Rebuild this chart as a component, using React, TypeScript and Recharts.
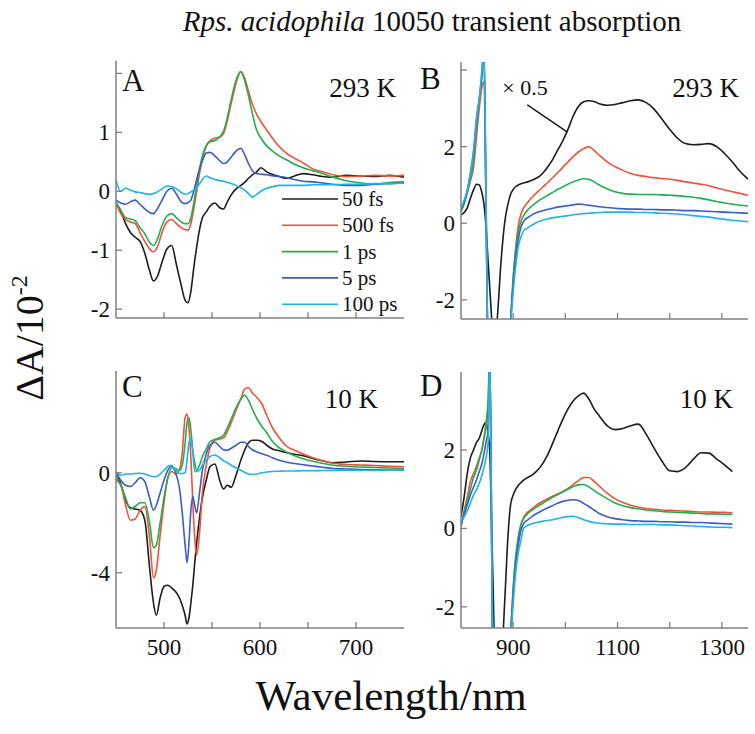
import React from 'react';
import { LineChart, Line, XAxis, YAxis, ReferenceLine } from 'recharts';

// ---- panel A: 293 K, visible region ----
const wlA = [450, 455, 460, 465, 470, 475, 480, 485, 489, 493, 498, 503, 508, 513, 518, 522, 525, 528, 531, 534, 537, 540, 544, 548, 553, 558, 562, 566, 570, 575, 580, 584, 588, 592, 596, 601, 607, 614, 620, 628, 636, 645, 655, 665, 676, 690, 705, 720, 735, 750];
const a50fs = [-0.2, -0.35, -0.55, -0.7, -0.78, -0.85, -1.05, -1.35, -1.52, -1.45, -1.2, -0.98, -0.92, -1.25, -1.6, -1.85, -1.89, -1.7, -1.3, -0.95, -0.65, -0.45, -0.35, -0.25, -0.2, -0.28, -0.3, -0.18, -0.06, 0.04, 0.1, 0.15, 0.22, 0.28, 0.32, 0.4, 0.33, 0.28, 0.25, 0.22, 0.26, 0.3, 0.28, 0.25, 0.24, 0.27, 0.26, 0.25, 0.27, 0.24];
const a500fs = [-0.2, -0.38, -0.48, -0.52, -0.55, -0.7, -0.85, -0.98, -1.03, -0.95, -0.7, -0.52, -0.48, -0.55, -0.62, -0.65, -0.66, -0.55, -0.3, 0.0, 0.3, 0.55, 0.76, 0.86, 0.9, 0.92, 0.98, 1.2, 1.49, 1.83, 2.03, 1.92, 1.7, 1.48, 1.32, 1.18, 1.04, 0.88, 0.76, 0.64, 0.56, 0.48, 0.38, 0.33, 0.28, 0.25, 0.26, 0.27, 0.26, 0.27];
const a1ps = [-0.18, -0.32, -0.45, -0.47, -0.5, -0.62, -0.72, -0.87, -0.92, -0.82, -0.58, -0.42, -0.38, -0.45, -0.52, -0.55, -0.55, -0.45, -0.2, 0.1, 0.38, 0.6, 0.78, 0.84, 0.86, 0.92, 1.02, 1.25, 1.56, 1.88, 2.03, 1.88, 1.62, 1.32, 1.06, 0.9, 0.77, 0.67, 0.6, 0.53, 0.46, 0.4, 0.35, 0.3, 0.24, 0.18, 0.14, 0.12, 0.15, 0.16];
const a5ps = [-0.15, -0.2, -0.22, -0.18, -0.15, -0.22, -0.3, -0.36, -0.38, -0.3, -0.15, 0.0, 0.05, -0.05, -0.18, -0.21, -0.19, -0.15, 0.0, 0.2, 0.38, 0.52, 0.65, 0.66, 0.6, 0.52, 0.47, 0.5, 0.58, 0.68, 0.73, 0.62, 0.47, 0.35, 0.3, 0.29, 0.28, 0.26, 0.25, 0.23, 0.2, 0.17, 0.16, 0.14, 0.12, 0.1, 0.1, 0.12, 0.13, 0.14];
const a100ps = [0.18, 0.0, 0.05, 0.02, -0.01, -0.02, -0.04, -0.05, -0.04, -0.01, 0.04, 0.09, 0.08, 0.04, -0.02, -0.05, -0.04, -0.01, 0.02, 0.06, 0.13, 0.2, 0.26, 0.23, 0.2, 0.18, 0.17, 0.15, 0.13, 0.1, 0.06, 0.02, -0.04, -0.1, -0.06, 0.0, 0.05, 0.08, 0.1, 0.1, 0.1, 0.1, 0.11, 0.11, 0.11, 0.12, 0.12, 0.13, 0.13, 0.14];

// ---- panel B: 293 K, near-IR ----
const wlB = [800, 806, 812, 818, 824, 830, 835, 840, 844, 848, 852, 857, 864, 870, 877, 884, 890, 895, 900, 905, 910, 915, 920, 928, 936, 945, 955, 965, 975, 985, 995, 1005, 1015, 1025, 1035, 1045, 1055, 1065, 1080, 1095, 1110, 1125, 1140, 1155, 1170, 1185, 1200, 1215, 1230, 1245, 1260, 1275, 1290, 1305, 1320, 1335, 1350];
const b50fs = [0.22, 0.28, 0.4, 0.65, 0.87, 1.02, 1.0, 0.8, 0.5, -0.1, -1.0, -2.1, -3.4, -2.4, -0.95, 0.05, 0.5, 0.75, 0.88, 0.96, 1.0, 1.03, 1.05, 1.08, 1.12, 1.18, 1.28, 1.45, 1.65, 1.9, 2.15, 2.45, 2.8, 3.05, 3.17, 3.2, 3.18, 3.12, 3.08, 3.1, 3.15, 3.2, 3.22, 3.15, 2.98, 2.72, 2.45, 2.22, 2.08, 2.05, 2.06, 2.08, 2.0, 1.82, 1.6, 1.35, 1.15];
const b500fs = [0.35, 0.55, 0.8, 1.1, 1.45, 2.3, 3.0, 3.55, 3.7, 0.5, -3.5, -4, -4, -4, -4, -4, -4, -2.6, -1.5, -0.6, -0.05, 0.25, 0.4, 0.55, 0.68, 0.8, 0.92, 1.05, 1.18, 1.32, 1.46, 1.6, 1.74, 1.86, 1.95, 2.0, 1.9, 1.78, 1.6, 1.48, 1.38, 1.3, 1.25, 1.22, 1.19, 1.17, 1.15, 1.12, 1.08, 1.05, 1.02, 0.98, 0.92, 0.87, 0.82, 0.78, 0.73];
const b1ps = [0.3, 0.5, 0.8, 1.15, 1.6, 2.6, 3.2, 3.8, 4.6, 0.5, -3.5, -4, -4, -4, -4, -4, -4, -2.6, -1.4, -0.7, -0.2, 0.05, 0.2, 0.35, 0.45, 0.55, 0.64, 0.72, 0.8, 0.88, 0.95, 1.02, 1.08, 1.13, 1.16, 1.15, 1.08, 1.0, 0.9, 0.82, 0.78, 0.76, 0.75, 0.75, 0.75, 0.74, 0.73, 0.72, 0.7, 0.68, 0.65, 0.61, 0.57, 0.53, 0.5, 0.47, 0.45];
const b5ps = [0.35, 0.55, 0.85, 1.3, 1.85, 2.75, 3.25, 3.9, 4.6, 0.5, -3.5, -4, -4, -4, -4, -4, -4, -2.6, -1.6, -0.9, -0.4, -0.1, 0.05, 0.15, 0.22, 0.28, 0.32, 0.36, 0.39, 0.42, 0.44, 0.46, 0.48, 0.5, 0.49, 0.47, 0.45, 0.43, 0.41, 0.39, 0.38, 0.37, 0.37, 0.36, 0.36, 0.35, 0.35, 0.34, 0.33, 0.33, 0.32, 0.31, 0.3, 0.29, 0.28, 0.27, 0.26];
const b100ps = [0.4, 0.6, 0.87, 1.3, 1.9, 2.8, 3.25, 4.0, 4.6, 0.5, -3.5, -4, -4, -4, -4, -4, -4, -2.7, -1.8, -1.1, -0.6, -0.35, -0.2, -0.12, -0.05, 0.02, 0.07, 0.11, 0.14, 0.16, 0.18, 0.2, 0.22, 0.24, 0.25, 0.26, 0.27, 0.28, 0.29, 0.29, 0.29, 0.29, 0.28, 0.28, 0.27, 0.26, 0.25, 0.24, 0.22, 0.2, 0.18, 0.16, 0.13, 0.1, 0.08, 0.06, 0.04];

// ---- panel C: 10 K, visible region ----
const wlC = [450, 455, 460, 465, 470, 475, 480, 485, 489, 492, 496, 500, 504, 508, 512, 516, 519, 522, 524, 526, 528, 530, 532, 534, 537, 540, 544, 548, 553, 558, 562, 566, 570, 575, 580, 584, 588, 592, 597, 602, 607, 613, 620, 628, 636, 645, 655, 665, 676, 690, 705, 720, 735, 750];
const c50fs = [0.04, -0.45, -1.1, -1.4, -1.45, -1.5, -1.9, -3.8, -5.2, -5.7, -5.0, -4.55, -4.5, -4.6, -4.75, -5.0, -5.3, -5.7, -6.05, -5.8, -5.2, -4.5, -3.6, -2.8, -1.8, -1.0, -0.3, 0.25, 0.35, -0.3, -0.65, -0.5, -0.58, -0.1, 0.5, 0.9, 1.2, 1.3, 1.3, 1.25, 1.1, 0.95, 0.88, 0.8, 0.74, 0.68, 0.57, 0.48, 0.4, 0.43, 0.47, 0.45, 0.44, 0.44];
const c500fs = [-0.29, -0.5, -1.3, -1.9, -1.85, -1.5, -1.35, -2.6, -4.2, -3.9, -2.5, -1.2, -0.2, 0.05, -0.05, 0.1, 0.8, 2.2, 2.35, 1.8, 0.6, -1.2, -2.6, -3.3, -2.4, -0.8, 0.3, 1.0, 1.3, 1.35, 1.4, 1.65, 2.0, 2.5, 2.95, 3.35, 3.4, 3.2, 3.0, 2.75, 2.3, 1.8, 1.4, 1.05, 0.9, 0.75, 0.6, 0.48, 0.38, 0.33, 0.31, 0.29, 0.26, 0.24];
const c1ps = [-0.16, -0.5, -1.0, -1.45, -1.35, -1.2, -1.2, -2.0, -3.0, -2.9, -2.0, -1.0, -0.2, 0.2, 0.17, 0.1, 0.3, 1.2, 2.0, 2.2, 1.7, 0.9, 0.4, 0.1, 0.3, 0.65, 0.95, 1.25, 1.33, 1.4, 1.5, 1.8, 2.15, 2.6, 2.95, 3.1, 2.9, 2.55, 2.15, 1.85, 1.6, 1.25, 1.0, 0.82, 0.68, 0.56, 0.46, 0.38, 0.3, 0.26, 0.23, 0.21, 0.19, 0.17];
const c5ps = [0.0, -0.3, -0.5, -0.55, -0.4, -0.2, -0.35, -1.0, -1.5, -1.3, -0.8, -0.3, 0.1, 0.27, 0.0, -0.6, -1.6, -2.9, -3.6, -2.8, -1.5, -0.95, -1.3, -1.6, -0.8, 0.1, 0.75, 1.1, 1.22, 1.05, 0.92, 0.9, 0.98, 1.1, 1.22, 1.22, 1.05, 0.92, 0.83, 0.76, 0.7, 0.6, 0.5, 0.42, 0.37, 0.32, 0.27, 0.22, 0.17, 0.15, 0.13, 0.12, 0.11, 0.11];
const c100ps = [0.05, -0.1, -0.05, -0.05, -0.03, -0.02, -0.05, -0.12, -0.16, -0.15, -0.05, 0.1, 0.25, 0.3, 0.1, -0.02, -0.03, 0.0, 0.5, 1.2, 1.4, 0.8, 0.05, 0.05, 0.1, 0.3, 0.5, 0.65, 0.71, 0.6, 0.48, 0.4, 0.3, 0.2, 0.1, 0.02, -0.05, -0.07, -0.05, 0.0, 0.03, 0.05, 0.06, 0.07, 0.07, 0.08, 0.08, 0.09, 0.09, 0.1, 0.1, 0.1, 0.11, 0.11];

// ---- panel D: 10 K, near-IR ----
const wlD = [800, 806, 812, 818, 824, 830, 835, 840, 844, 848, 852, 855, 858, 861, 866, 872, 878, 884, 890, 895, 900, 905, 910, 915, 920, 928, 936, 945, 955, 965, 975, 985, 995, 1005, 1015, 1025, 1035, 1045, 1055, 1065, 1080, 1095, 1110, 1125, 1140, 1155, 1170, 1185, 1200, 1215, 1230, 1245, 1260, 1275, 1290, 1305, 1320];
const d50fs = [0.3, 0.8, 1.4, 1.8, 2.0, 2.2, 2.3, 2.5, 2.65, 2.7, 2.4, 2.0, 0.5, -1.2, -3.5, -3.5, -3.2, -1.8, -0.2, 0.6, 0.85, 1.0, 1.1, 1.17, 1.23, 1.3, 1.36, 1.46, 1.62, 1.85, 2.15, 2.47, 2.78, 3.05, 3.25, 3.38, 3.45, 3.3, 3.05, 2.87, 2.62, 2.52, 2.55, 2.62, 2.66, 2.4, 2.05, 1.72, 1.47, 1.45, 1.55, 1.76, 1.93, 1.92, 1.77, 1.62, 1.45];
const d500fs = [0.05, 0.45, 0.8, 1.2, 1.4, 1.6, 1.8, 2.0, 2.3, 2.6, 3.0, 4.5, 1.0, -3.5, -4, -4, -4, -4, -4, -2.7, -1.6, -0.75, -0.25, 0.1, 0.28, 0.42, 0.5, 0.6, 0.68, 0.75, 0.82, 0.88, 0.94, 1.02, 1.12, 1.22, 1.3, 1.3, 1.2, 1.08, 0.9, 0.76, 0.66, 0.59, 0.54, 0.51, 0.49, 0.47, 0.46, 0.45, 0.44, 0.43, 0.42, 0.42, 0.41, 0.41, 0.4];
const d1ps = [0.05, 0.4, 0.7, 1.0, 1.3, 1.5, 1.75, 2.0, 2.3, 2.7, 3.3, 4.5, 1.0, -3.5, -4, -4, -4, -4, -4, -2.7, -1.5, -0.7, -0.2, 0.1, 0.25, 0.38, 0.46, 0.55, 0.63, 0.71, 0.79, 0.86, 0.93, 1.0, 1.07, 1.11, 1.12, 1.06, 0.97, 0.88, 0.76, 0.65, 0.58, 0.53, 0.5, 0.47, 0.45, 0.43, 0.42, 0.41, 0.4, 0.39, 0.38, 0.37, 0.37, 0.36, 0.36];
const d5ps = [0.1, 0.35, 0.6, 0.85, 1.05, 1.25, 1.45, 1.65, 1.9, 2.2, 2.5, 4.5, 1.0, -3.5, -4, -4, -4, -4, -4, -2.8, -1.7, -0.9, -0.4, -0.05, 0.12, 0.22, 0.3, 0.38, 0.45, 0.52, 0.58, 0.64, 0.69, 0.72, 0.73, 0.71, 0.64, 0.56, 0.47, 0.38, 0.3, 0.25, 0.22, 0.2, 0.19, 0.18, 0.18, 0.17, 0.17, 0.16, 0.16, 0.15, 0.15, 0.14, 0.13, 0.12, 0.11];
const d100ps = [0.15, 0.3, 0.45, 0.65, 0.85, 1.0, 1.15, 1.35, 1.55, 1.8, 2.2, 4.5, 1.0, -3.5, -4, -4, -4, -4, -4, -2.9, -1.9, -1.1, -0.6, -0.3, 0.0, 0.08, 0.12, 0.15, 0.18, 0.2, 0.22, 0.25, 0.28, 0.3, 0.31, 0.27, 0.22, 0.18, 0.15, 0.13, 0.12, 0.11, 0.11, 0.1, 0.1, 0.1, 0.1, 0.09, 0.09, 0.08, 0.07, 0.06, 0.05, 0.04, 0.03, 0.03, 0.02];

const seriesNames = ['50 fs', '500 fs', '1 ps', '5 ps', '100 ps'];
const seriesColors = ['#1c1c1c', '#f4503a', '#22ae4c', '#3a5cc8', '#20b2e8'];

const FONT = '"Liberation Serif", "Times New Roman", serif';
const FRAME = '#808080';

const toRows = (wl: number[], ys: number[][]) =>
  wl.map((x, i) => {
    const row: Record<string, number> = { x };
    ys.forEach((s, k) => (row['s' + k] = s[i]));
    return row;
  });

type Side = 'bottom' | 'top' | 'left' | 'right';

const makeTick = (side: Side, labels: number[]) => (props: any) => {
  const { x, y, payload } = props;
  const v = payload.value;
  const show = labels.includes(v);
  const L = 6;
  if (side === 'bottom') {
    return (
      <g>
        <line x1={x} y1={y} x2={x} y2={y - L} stroke={FRAME} strokeWidth={1.3} />
        {show && (
          <text x={x} y={y + 27} textAnchor="middle" fontSize={23} fontFamily={FONT} fill="#111">
            {v}
          </text>
        )}
      </g>
    );
  }
  if (side === 'top') {
    return <line x1={x} y1={y} x2={x} y2={y + L} stroke={FRAME} strokeWidth={1.3} />;
  }
  if (side === 'left') {
    return (
      <g>
        <line x1={x} y1={y} x2={x + L} y2={y} stroke={FRAME} strokeWidth={1.3} />
        {show && (
          <text x={x - 6} y={y + 8} textAnchor="end" fontSize={23} fontFamily={FONT} fill="#111">
            {v}
          </text>
        )}
      </g>
    );
  }
  return <line x1={x} y1={y} x2={x - L} y2={y} stroke={FRAME} strokeWidth={1.3} />;
};

interface PanelProps {
  rows: Record<string, number>[];
  left: number;
  top: number;
  w: number;
  h: number;
  xDomain: [number, number];
  yDomain: [number, number];
  xTicks: number[];
  xLabels: number[];
  yTicks: number[];
  yLabels: number[];
  children?: React.ReactNode;
}

const AX_L = 50;
const AX_B = 35;
const M = 5;

const Panel = ({ rows, left, top, w, h, xDomain, yDomain, xTicks, xLabels, yTicks, yLabels, children }: PanelProps) => (
  <div style={{ position: 'absolute', left: left - AX_L, top: top - M }}>
    <LineChart
      width={AX_L + w + M}
      height={M + h + AX_B}
      data={rows}
      margin={{ top: M, right: M, left: 0, bottom: 0 }}
    >
      <XAxis
        dataKey="x"
        type="number"
        domain={xDomain}
        allowDataOverflow
        ticks={xTicks}
        interval={0}
        height={AX_B}
        tickSize={0}
        tickMargin={0}
        tickLine={false}
        axisLine={{ stroke: FRAME, strokeWidth: 1.5 }}
        tick={makeTick('bottom', xLabels)}
      />
      <XAxis
        xAxisId="t"
        orientation="top"
        dataKey="x"
        type="number"
        domain={xDomain}
        allowDataOverflow
        ticks={xTicks}
        interval={0}
        height={0}
        tickSize={0}
        tickMargin={0}
        tickLine={false}
        axisLine={{ stroke: FRAME, strokeWidth: 1.5 }}
        tick={makeTick('top', [])}
      />
      <YAxis
        type="number"
        domain={yDomain}
        allowDataOverflow
        ticks={yTicks}
        interval={0}
        width={AX_L}
        tickSize={0}
        tickMargin={0}
        tickLine={false}
        axisLine={{ stroke: FRAME, strokeWidth: 1.5 }}
        tick={makeTick('left', yLabels)}
      />
      <YAxis
        yAxisId="r"
        orientation="right"
        type="number"
        domain={yDomain}
        allowDataOverflow
        ticks={yTicks}
        interval={0}
        width={0}
        tickSize={0}
        tickMargin={0}
        tickLine={false}
        axisLine={{ stroke: FRAME, strokeWidth: 1.5 }}
        tick={makeTick('right', [])}
      />
      {seriesNames.map((n, k) => (
        <Line
          key={n}
          dataKey={'s' + k}
          name={n}
          type="monotone"
          stroke={seriesColors[k]}
          strokeWidth={1.6}
          dot={false}
          isAnimationActive={false}
        />
      ))}
      {children}
    </LineChart>
  </div>
);

export default function App() {
  const rowsA = toRows(wlA, [a50fs, a500fs, a1ps, a5ps, a100ps]);
  const rowsB = toRows(wlB, [b50fs, b500fs, b1ps, b5ps, b100ps]);
  const rowsC = toRows(wlC, [c50fs, c500fs, c1ps, c5ps, c100ps]);
  const rowsD = toRows(wlD, [d50fs, d500fs, d1ps, d5ps, d100ps]);

  const visTicks = [500, 550, 600, 650, 700];
  const visLabels = [500, 600, 700];
  const irTicks = [900, 1000, 1100, 1200, 1300];
  const irLabels = [900, 1100, 1300];

  return (
    <div style={{ position: 'absolute', left: 0, top: 0, width: 755, height: 734, background: '#fff', fontFamily: FONT }}>
      <Panel rows={rowsA} left={116} top={61} w={288} h={257} xDomain={[450, 750]} yDomain={[-2.15, 2.21]}
        xTicks={visTicks} xLabels={[]} yTicks={[-2, -1, 0, 1, 2]} yLabels={[-2, -1, 0, 1]} />
      <Panel rows={rowsB} left={461} top={62} w={287} h={257} xDomain={[800, 1350]} yDomain={[-2.5, 4.21]}
        xTicks={irTicks} xLabels={[]} yTicks={[-2, 0, 2, 4]} yLabels={[-2, 0, 2]}>
        <ReferenceLine segment={[{ x: 927, y: 3.09 }, { x: 1004, y: 2.38 }]} stroke="#111" strokeWidth={1.3} />
      </Panel>
      <Panel rows={rowsC} left={116} top={371} w={288} h={257} xDomain={[450, 750]} yDomain={[-6.21, 4.07]}
        xTicks={visTicks} xLabels={visLabels} yTicks={[-4, 0]} yLabels={[-4, 0]} />
      <Panel rows={rowsD} left={461} top={372} w={287} h={256} xDomain={[800, 1350]} yDomain={[-2.54, 3.99]}
        xTicks={irTicks} xLabels={irLabels} yTicks={[-2, 0, 2]} yLabels={[-2, 0, 2]} />

      <svg width={755} height={734} style={{ position: 'absolute', left: 0, top: 0, pointerEvents: 'none' }}>
        <text x={432} y={31} textAnchor="middle" fontSize={29} fontFamily={FONT} fill="#111">
          <tspan fontStyle="italic">Rps. acidophila</tspan> 10050 transient absorption
        </text>

        <text x={122} y={91} fontSize={31} fontFamily={FONT} fill="#111">A</text>
        <text x={420} y={89} fontSize={31} fontFamily={FONT} fill="#111">B</text>
        <text x={122} y={397} fontSize={31} fontFamily={FONT} fill="#111">C</text>
        <text x={420} y={396} fontSize={31} fontFamily={FONT} fill="#111">D</text>

        <text x={396} y={97} textAnchor="end" fontSize={27} fontFamily={FONT} fill="#111">293 K</text>
        <text x={739} y={97} textAnchor="end" fontSize={27} fontFamily={FONT} fill="#111">293 K</text>
        <text x={378} y={408} textAnchor="end" fontSize={27} fontFamily={FONT} fill="#111">10 K</text>
        <text x={733} y={408} textAnchor="end" fontSize={27} fontFamily={FONT} fill="#111">10 K</text>

        <text x={525} y={95} textAnchor="middle" fontSize={22} fontFamily={FONT} fill="#111">× 0.5</text>

        {seriesNames.map((n, k) => (
          <g key={n}>
            <line x1={282} x2={338} y1={199 + k * 26.3} y2={199 + k * 26.3} stroke={seriesColors[k]} strokeWidth={1.6} />
            <text x={342} y={206 + k * 26.3} fontSize={21} fontFamily={FONT} fill="#111">{n}</text>
          </g>
        ))}

        <text transform="translate(43,338) rotate(-90)" textAnchor="middle" fontSize={40} fontFamily={FONT} fill="#111">
          ΔA/10<tspan dy={-16} fontSize={24}>-2</tspan>
        </text>

        <text x={391} y={710} textAnchor="middle" fontSize={43} fontFamily={FONT} fill="#111">Wavelength/nm</text>
      </svg>
    </div>
  );
}
